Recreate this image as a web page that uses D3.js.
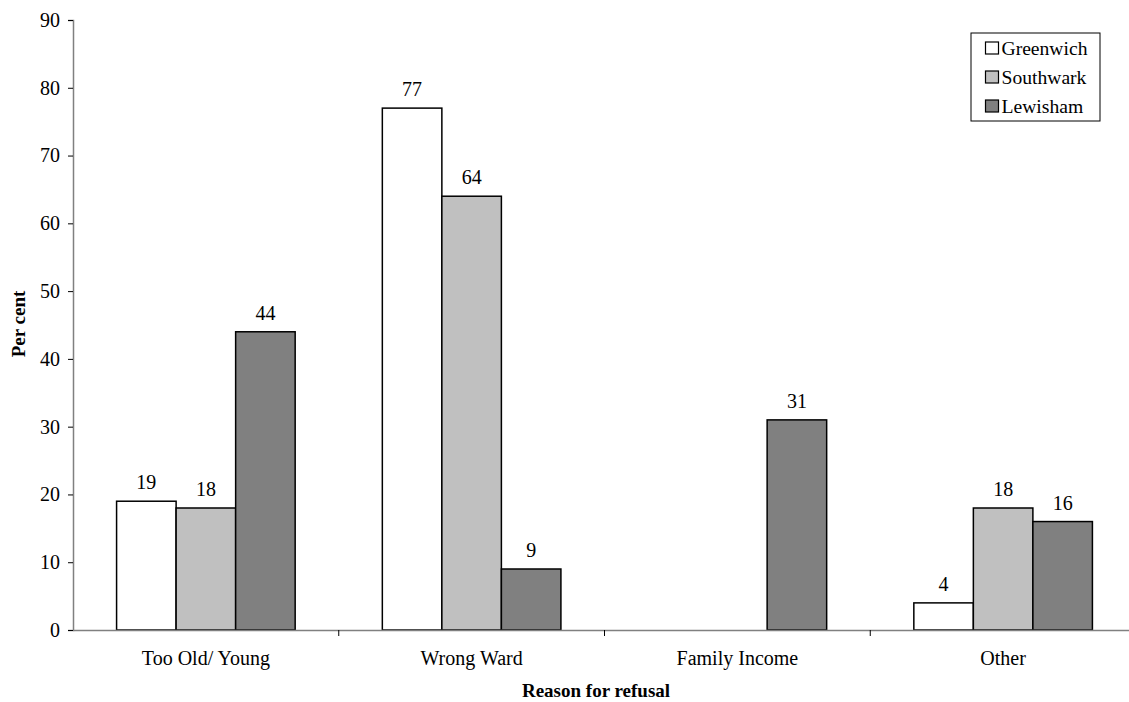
<!DOCTYPE html>
<html>
<head>
<meta charset="utf-8">
<script src="https://cdn.jsdelivr.net/npm/d3@7"></script>
<style>
  body { margin: 0; background: #fff; }
  svg text { font-family: "Liberation Serif", "Times New Roman", Times, "DejaVu Serif", serif; }
</style>
</head>
<body>
<svg id="chart" width="1129" height="702"></svg>
<script>
const categories = ["Too Old/ Young", "Wrong Ward", "Family Income", "Other"];
const seriesNames = ["Greenwich", "Southwark", "Lewisham"];
const greenwich = [19, 77, null, 4];
const southwark = [18, 64, null, 18];
const lewisham = [44, 9, 31, 16];
const yTicks = [0, 10, 20, 30, 40, 50, 60, 70, 80, 90];
const seriesColors = ["#ffffff", "#c0c0c0", "#808080"];
const seriesValues = [greenwich, southwark, lewisham];

const FONT = "'Liberation Serif', 'Times New Roman', Times, serif";
const FS = 20;
const svg = d3.select("#chart");
const x0 = 73, x1 = 1136, yTop = 20, yBottom = 630;

const x = d3.scaleBand().domain(categories).range([x0, x1]).padding(0);
const bw = x.bandwidth();
const groupW = bw * 0.672;
const xs = d3.scaleBand().domain(seriesNames)
  .range([(bw - groupW) / 2, (bw + groupW) / 2]).padding(0);
const y = d3.scaleLinear().domain([0, 90]).range([yBottom, yTop]);

// Y axis
const yAxis = svg.append("g").attr("transform", `translate(${x0},0)`)
  .call(d3.axisLeft(y).tickValues(yTicks).tickSize(5).tickPadding(8));
yAxis.attr("font-family", FONT);
yAxis.select(".domain").attr("stroke", "#808080").attr("stroke-width", 1.5);
yAxis.selectAll(".tick line").attr("stroke", "#000").attr("stroke-width", 1);
yAxis.selectAll(".tick text").attr("font-size", FS).attr("fill", "#000")
  .attr("font-family", FONT);

// Bars
const data = [];
categories.forEach((c, i) => {
  seriesNames.forEach((s, j) => {
    const v = seriesValues[j][i];
    if (v !== null) data.push({ c, s, v, color: seriesColors[j] });
  });
});

svg.append("g").selectAll("rect").data(data).enter().append("rect")
  .attr("x", d => x(d.c) + xs(d.s))
  .attr("y", d => y(d.v))
  .attr("width", xs.bandwidth())
  .attr("height", d => y(0) - y(d.v))
  .attr("fill", d => d.color)
  .attr("stroke", "#000")
  .attr("stroke-width", 1.5);

// X axis
const xAxis = svg.append("g").attr("transform", `translate(0,${yBottom})`)
  .call(d3.axisBottom(x).tickValues([]).tickSizeOuter(0));
xAxis.select(".domain").attr("stroke", "#808080").attr("stroke-width", 1.5);
const bounds = categories.slice(1).map(c => x(c));
svg.append("g").selectAll("line").data(bounds).enter().append("line")
  .attr("x1", d => d).attr("x2", d => d)
  .attr("y1", yBottom).attr("y2", yBottom + 6)
  .attr("stroke", "#000").attr("stroke-width", 1);

// category labels
svg.append("g").selectAll("text").data(categories).enter().append("text")
  .attr("x", d => x(d) + bw / 2)
  .attr("y", 665)
  .attr("text-anchor", "middle")
  .attr("font-family", FONT)
  .attr("font-size", FS)
  .text(d => d);

// value labels
svg.append("g").selectAll("text").data(data).enter().append("text")
  .attr("x", d => x(d.c) + xs(d.s) + xs.bandwidth() / 2)
  .attr("y", d => y(d.v) - 12)
  .attr("text-anchor", "middle")
  .attr("font-family", FONT)
  .attr("font-size", FS)
  .text(d => d.v);

// Axis titles
svg.append("text")
  .attr("x", 596).attr("y", 697)
  .attr("text-anchor", "middle")
  .attr("font-family", FONT)
  .attr("font-size", 19).attr("font-weight", "bold")
  .text("Reason for refusal");

svg.append("text")
  .attr("transform", "translate(25,324) rotate(-90)")
  .attr("text-anchor", "middle")
  .attr("font-family", FONT)
  .attr("font-size", 19).attr("font-weight", "bold")
  .text("Per cent");

// Legend
const lg = svg.append("g");
lg.append("rect").attr("x", 971).attr("y", 33).attr("width", 129).attr("height", 88)
  .attr("fill", "#fff").attr("stroke", "#000").attr("stroke-width", 1);
const rowY = d3.scalePoint().domain(seriesNames).range([48, 106]);
seriesNames.forEach((s, j) => {
  lg.append("rect").attr("x", 985.5).attr("y", rowY(s) - 6).attr("width", 13).attr("height", 12)
    .attr("fill", seriesColors[j]).attr("stroke", "#000").attr("stroke-width", 1.2);
  lg.append("text").attr("x", 1001.5).attr("y", rowY(s) + 6.5)
    .attr("font-family", FONT)
    .attr("font-size", 19.6).text(s);
});
</script>
</body>
</html>
